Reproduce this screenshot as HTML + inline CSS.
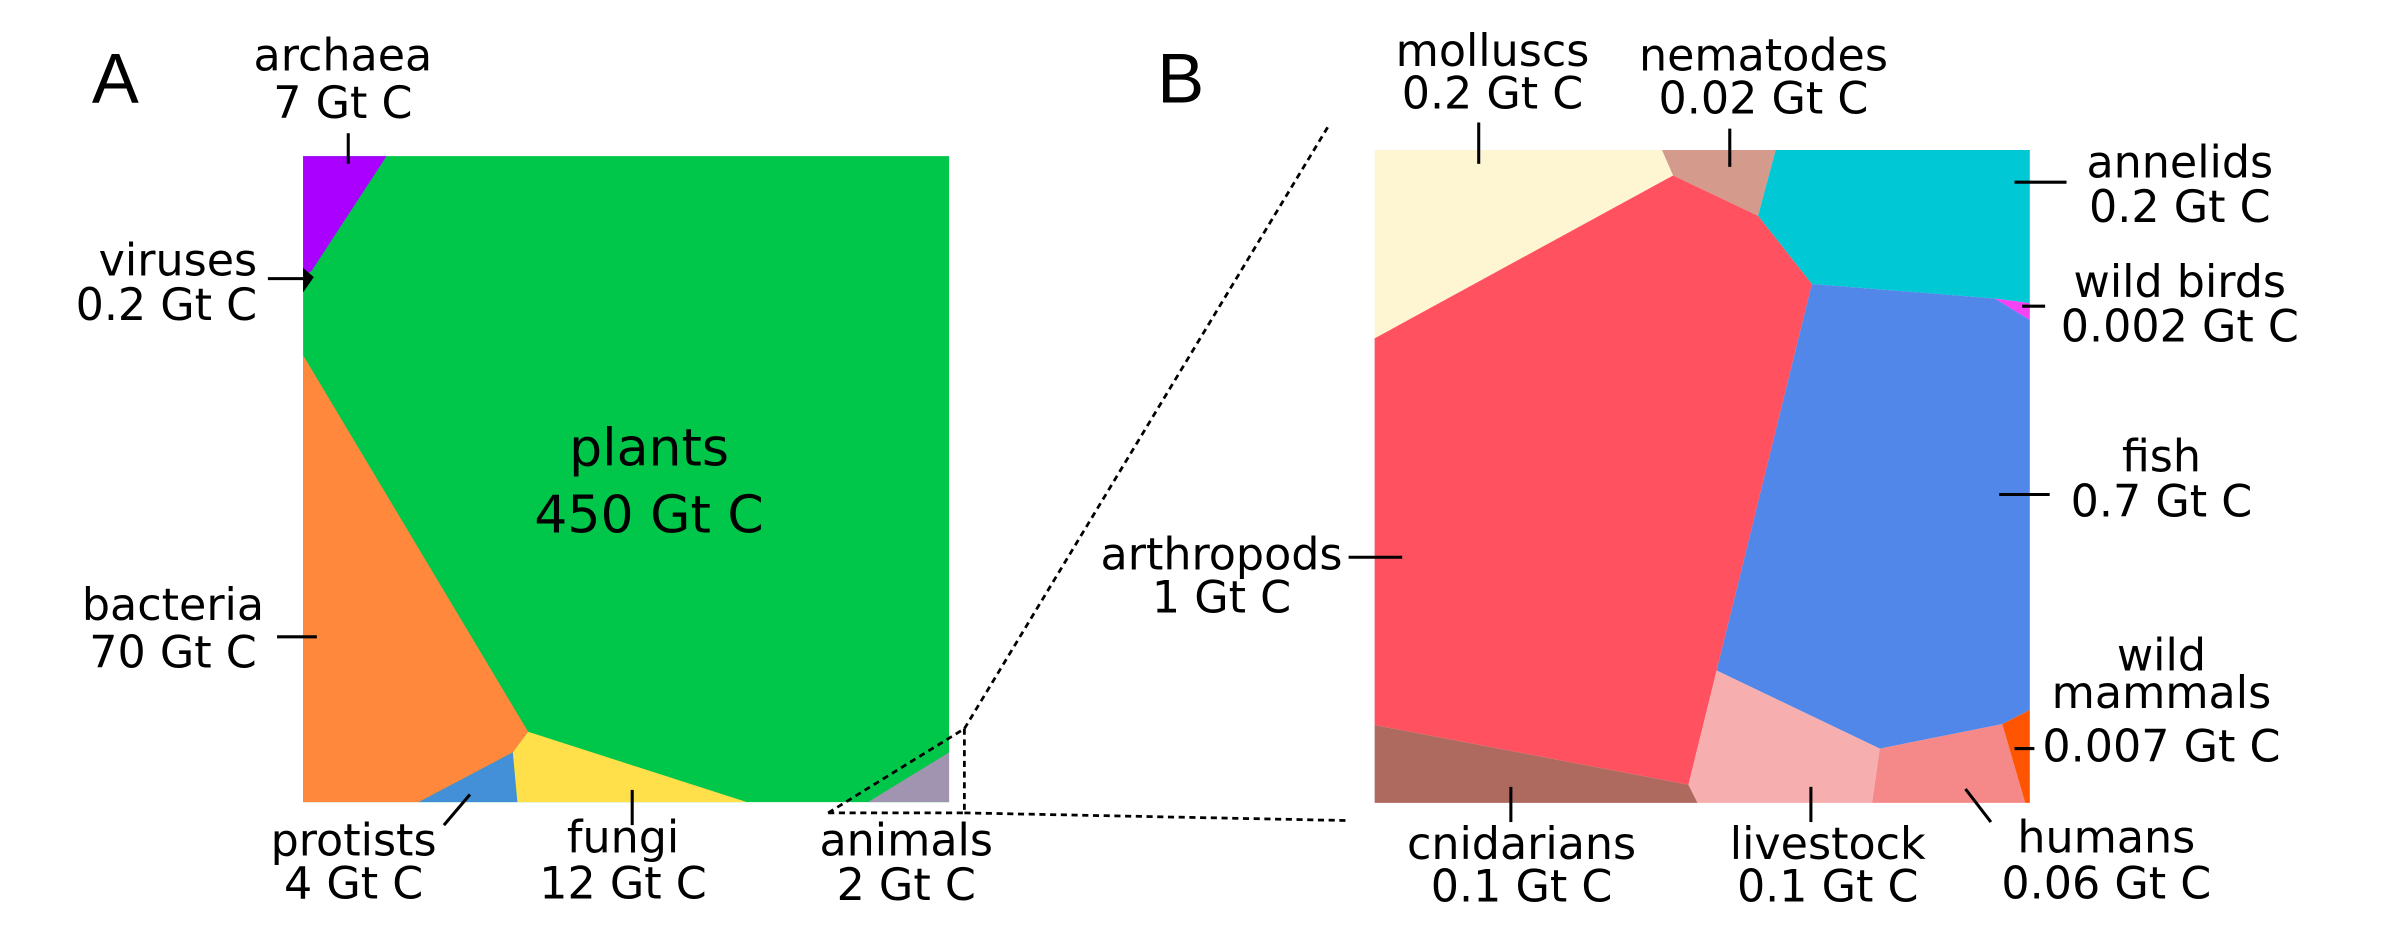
<!DOCTYPE html>
<html><head><meta charset="utf-8"><style>
html,body{margin:0;padding:0;background:#fff;}
svg{display:block;}
text{font-family:"DejaVu Sans","Liberation Sans",sans-serif;fill:#000;}
</style></head><body>
<svg id="chart" width="2388" height="951" viewBox="0 0 1560 621.2" xmlns="http://www.w3.org/2000/svg">
<rect width="1560" height="621.2" fill="#fff"/>
<g id="cells"></g>
<g id="ticks" stroke="#000" stroke-width="2" fill="none"></g>
<g id="dash" stroke="#000" stroke-width="1.8" stroke-dasharray="4,3" fill="none"></g>
<g id="labels"></g>
<text x="60" y="67" font-size="46" style="font-family:'Liberation Sans',sans-serif">A</text>
<text x="756" y="67" font-size="46" style="font-family:'Liberation Sans',sans-serif">B</text>
</svg>
<script>
const names = ["plants","archaea","viruses","bacteria","protists","fungi","animals","molluscs","nematodes","annelids","wild birds","fish","arthropods","cnidarians","livestock","humans","wild mammals"];
const values = ["450","7","0.2","70","4","12","2","0.2","0.02","0.2","0.002","0.7","1","0.1","0.1","0.06","0.007"];
const colors = ["#00c74a","#aa00ff","#000000","#ff883c","#438fd8","#ffdf4a","#a194b0","#fef6d3","#d49b8c","#00c8d4","#f542f5","#5087e8","#ff515f","#ae6a5e","#f7aeae","#f58888","#ff5500"];
const cells = [
 [[198,102],[620,102],[620,524],[198,524]],
 [[198,102],[252.5,102],[203.5,177],[198,180]],
 [[198,175],[205,181],[198,191]],
 [[198,232],[345,478],[335,491.5],[273.5,524],[198,524]],
 [[273.5,524],[335,491.5],[338,524]],
 [[335,491.5],[345,478],[488,524],[338,524]],
 [[567,524],[620,491.5],[620,524]],
 [[898,98],[1085.7,98],[1093,114.6],[898,221]],
 [[1085.7,98],[1160,98],[1148.5,141],[1093,114.6]],
 [[1160,98],[1326,98],[1326,198],[1303,195],[1183.6,185.5],[1148.5,141]],
 [[1303,195],[1326,198],[1326,209]],
 [[1183.6,185.5],[1303,195],[1326,209],[1326,463.7],[1308,473],[1228,489],[1121.4,438]],
 [[898,221],[1093,114.6],[1148.5,141],[1183.6,185.5],[1121.4,438],[1103,512.6],[898,473.6]],
 [[898,473.6],[1103,512.6],[1109,524.5],[898,524.5]],
 [[1103,512.6],[1121.4,438],[1228,489],[1223,524.5],[1109,524.5]],
 [[1228,489],[1308,473],[1323,524.5],[1223,524.5]],
 [[1308,473],[1326,463.7],[1326,524.5],[1323,524.5]]
];
// label anchor: [x, y1, y2, anchor]
const labelPos = [
 [424,304,348,"middle",34],[224,46,77,"middle",29],[168,180,209,"end",29],[113,405,436,"middle",29],
 [231,559,587,"middle",29],[407,557,587,"middle",29],[592,559,588,"middle",29],
 [975,43,71,"middle",29],[1152,46,74,"middle",29],[1424,116,145,"middle",29],[1424,194,223,"middle",29],
 [1412,308,337.5,"middle",29],[798,372,400,"middle",29],[994,561,589,"middle",29],[1194,561,589,"middle",29],
 [1376,557,587,"middle",29],[1412,0,497.5,"middle",29]
];
const tickLines = [
 null,[227.5,87,227.5,107],[175,182,203,182],[181,416,207,416],[307,519,290,539],[413,516,413,539],null,
 [966,80,966,107],[1130,84,1130,109],[1316,119,1350,119],[1321,200,1336,200],[1306,323,1339,323],
 [881,364,916,364],[987,514,987,537],[1183,514,1183,537],[1284,515.4,1300.6,537],[1316,489,1329,489]
];
const NS="http://www.w3.org/2000/svg";
const gC=document.getElementById('cells'),gT=document.getElementById('ticks'),gL=document.getElementById('labels'),gD=document.getElementById('dash');
cells.forEach((pts,i)=>{
 const p=document.createElementNS(NS,'polygon');
 p.setAttribute('points',pts.map(q=>q.join(',')).join(' '));
 p.setAttribute('fill',colors[i]);
 
 
 gC.appendChild(p);
});
tickLines.forEach((t,i)=>{
 if(!t)return;
 const l=document.createElementNS(NS,'line');
 l.setAttribute('x1',t[0]);l.setAttribute('y1',t[1]);l.setAttribute('x2',t[2]);l.setAttribute('y2',t[3]);
 
 
 gT.appendChild(l);
});
labelPos.forEach((lp,i)=>{
 const t=document.createElementNS(NS,'text');
 t.setAttribute('text-anchor',lp[3]);t.setAttribute('font-size',lp[4]);
 
 
 const mk=(txt,y)=>{const s=document.createElementNS(NS,'tspan');s.setAttribute('x',lp[0]);s.setAttribute('y',y);s.textContent=txt;t.appendChild(s);};
 if(names[i]==="wild mammals"){mk("wild",438);mk("mammals",462.5);}
 else mk(names[i],lp[1]);
 mk(values[i]+" Gt C",lp[2]);
 gL.appendChild(t);
});
[[630,476,868,82],[630,476,630,531],[541,531,630,531],[541,531,630,476],[630,531,880,536]].forEach(d=>{
 const l=document.createElementNS(NS,'line');
 l.setAttribute('x1',d[0]);l.setAttribute('y1',d[1]);l.setAttribute('x2',d[2]);l.setAttribute('y2',d[3]);
 
 
 gD.appendChild(l);
});
</script>
</body></html>
